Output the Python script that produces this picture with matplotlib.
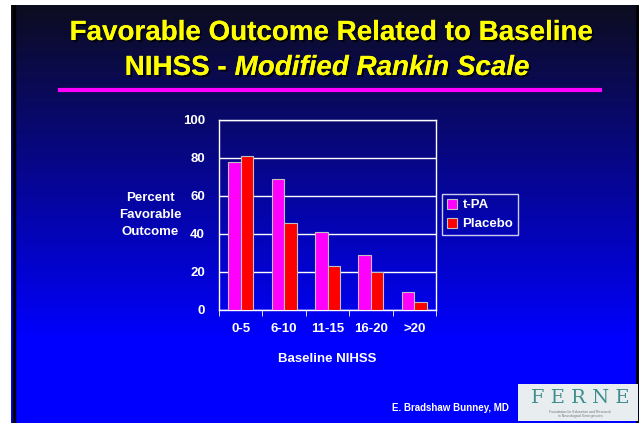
import numpy as np
import matplotlib
matplotlib.use('Agg')
import matplotlib.pyplot as plt
import matplotlib.patheffects as pe
from matplotlib.patches import Rectangle

categories = ['0-5', '6-10', '11-15', '16-20', '>20']
tpa = [78, 69, 41, 29, 9.5]
placebo = [81, 46, 23, 20, 4]
series_names = ['t-PA', 'Placebo']
y_ticks = [0, 20, 40, 60, 80, 100]

plt.rcParams['font.family'] = ['Liberation Sans', 'DejaVu Sans']

W, H = 642, 423
fig = plt.figure(figsize=(W / 100, H / 100), dpi=100, facecolor='white')

# slide background: dark navy at top, full blue from about y=340 down
bg = fig.add_axes([11 / W, 0, 628 / W, 418 / H], zorder=0)
rows = np.arange(418)[:, None].astype(float)
t = np.clip(rows / 335, 0, 1)
r = 0.05 * (1 - t)
g = 0.05 * (1 - t)
b = 0.12 + 0.88 * t
img = np.dstack([r, g, b])
bg.imshow(img, aspect='auto', extent=[0, 1, 0, 1])
bg.set_xlim(0, 1)
bg.set_ylim(0, 1)
bg.axis('off')
bg.plot([0.004, 0.004], [0, 1], color='black', lw=2.5)
bg.plot([0.997, 0.997], [0, 1], color='black', lw=2)

# title
shadow = [pe.withSimplePatchShadow(offset=(1.5, -1.5), shadow_rgbFace='black', alpha=0.7), pe.Normal()]
fig.text(331 / W, 1 - 33 / H, 'Favorable Outcome Related to Baseline', color='#FFFF00',
         fontsize=20, fontweight='bold', ha='center', va='center', path_effects=shadow)
t1 = fig.text(0, 1 - 68 / H, 'NIHSS - ', color='#FFFF00', fontsize=20, fontweight='bold',
              ha='left', va='center', path_effects=shadow)
t2 = fig.text(0, 1 - 68 / H, 'Modified Rankin Scale', color='#FFFF00', fontsize=20,
              fontweight='bold', fontstyle='italic', ha='left', va='center', path_effects=shadow)
fig.canvas.draw()
rend = fig.canvas.get_renderer()
w1 = t1.get_window_extent(rend).width
w2 = t2.get_window_extent(rend).width
x0 = 327 - (w1 + w2) / 2
t1.set_x(x0 / W)
t2.set_x((x0 + w1) / W)

# magenta rule
fig.add_artist(plt.Line2D([60 / W, 600 / W], [1 - 90 / H, 1 - 90 / H], color='#FF00FF', lw=3))

# chart
ax = fig.add_axes([219 / W, 1 - 310 / H, 217 / W, 190 / H], zorder=2)
ax.set_facecolor('none')
x = np.arange(len(categories))
bw = 0.29
ax.bar(x - bw / 2, tpa, bw, color='#FF00FF', edgecolor='#C0C0C0', lw=0.8, label=series_names[0], zorder=3)
ax.bar(x + bw / 2, placebo, bw, color='#FF0000', edgecolor='#C0C0C0', lw=0.8, label=series_names[1], zorder=3)
ax.set_xlim(-0.5, len(categories) - 0.5)
ax.set_ylim(0, 100)
ax.set_yticks(y_ticks)
ax.yaxis.grid(True, color='white', lw=1)
ax.set_axisbelow(True)
for s in ax.spines.values():
    s.set_color('white')
    s.set_linewidth(1)
ax.set_xticks(x)
ax.set_xticklabels(categories)
ax.set_xticks(np.arange(-0.5, len(categories)), minor=True)
ax.tick_params(axis='x', which='major', length=0, pad=9.5, colors='white', labelsize=9.5)
ax.tick_params(axis='x', which='minor', length=4, color='white', direction='out')
ax.tick_params(axis='y', length=0, pad=10, colors='white', labelsize=9.5)
for lab in ax.get_xticklabels() + ax.get_yticklabels():
    lab.set_fontweight('bold')

ax.set_xlabel('Baseline NIHSS', color='white', fontsize=9.5, fontweight='bold', labelpad=13)
fig.text(150 / W, 1 - 215 / H, 'Percent\nFavorable\nOutcome', color='white', fontsize=9.5,
         fontweight='bold', ha='center', va='center', linespacing=1.6)

leg = ax.legend(loc='upper left', bbox_to_anchor=(442 / W, 1 - 194 / H), bbox_transform=fig.transFigure,
                frameon=True, fancybox=False, fontsize=9.5, handlelength=0.8, handleheight=0.8,
                handletextpad=0.4, borderpad=0.35, labelspacing=0.5, borderaxespad=0)
leg.get_frame().set_facecolor('none')
leg.get_frame().set_edgecolor('white')
leg.get_frame().set_linewidth(1)
for txt in leg.get_texts():
    txt.set_color('white')
    txt.set_fontweight('bold')

# footer
fig.text(509 / W, 1 - 408 / H, 'E. Bradshaw Bunney, MD', color='white', fontsize=7,
         fontweight='bold', ha='right', va='center')
fig.add_artist(Rectangle((518 / W, 2 / H), 120 / W, 37 / H, transform=fig.transFigure,
                         facecolor='#E8EEF0', edgecolor='none', zorder=5))
fig.text(580 / W, 1 - 398 / H, 'F E R N E', color='#3E8C8C', fontsize=14, family='DejaVu Serif',
         ha='center', va='center', zorder=6)
fig.text(580 / W, 1 - 414 / H, 'Foundation for Education and Research\nin Neurological Emergencies',
         color='#777777', fontsize=2.5, ha='center', va='center', zorder=6, linespacing=1.1)

fig.savefig('out.png', dpi=100, facecolor='white')
